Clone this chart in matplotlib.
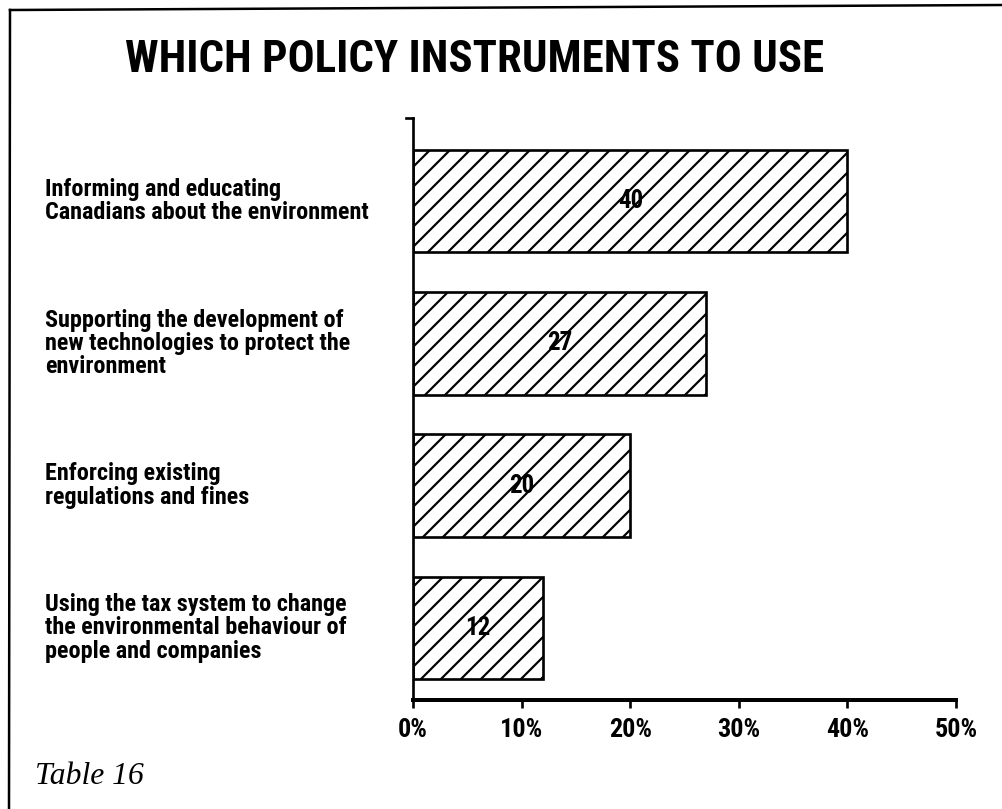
import matplotlib
matplotlib.use("Agg")
import matplotlib.pyplot as plt
from matplotlib.lines import Line2D
from matplotlib import font_manager

categories = [
    "Informing and educating\nCanadians about the environment",
    "Supporting the development of\nnew technologies to protect the\nenvironment",
    "Enforcing existing\nregulations and fines",
    "Using the tax system to change\nthe environmental behaviour of\npeople and companies",
]
values = [40, 27, 20, 12]
xticks = [0, 10, 20, 30, 40, 50]
xtick_labels = ["0%", "10%", "20%", "30%", "40%", "50%"]
title = "WHICH POLICY INSTRUMENTS TO USE"
footnote = "Table 16"

# pick the narrowest heavy sans family available
names = {f.name for f in font_manager.fontManager.ttflist}
cond = None
for cand in ["Liberation Sans Narrow", "Arial Narrow", "Roboto Condensed",
             "DejaVu Sans Condensed", "Open Sans Condensed", "Noto Sans Condensed"]:
    if cand in names:
        cond = cand
        break
if cond is None:
    cond = "Roboto" if "Roboto" in names else "Liberation Sans"
COND = [cond, "DejaVu Sans"]

plt.rcParams["hatch.linewidth"] = 1.3

DPI = 120
W, H = 1002, 809
fig = plt.figure(figsize=(W / DPI, H / DPI), dpi=DPI)
fig.patch.set_facecolor("white")

ax = fig.add_axes([413 / W, 1 - 700 / H, (956 - 413) / W, (700 - 118) / H])
ypos = list(range(len(values)))
ax.barh(ypos, values, height=0.72, color="white", edgecolor="black",
        hatch="//", linewidth=1.6, zorder=2)
vlabels = []
for y, v in zip(ypos, values):
    vlabels.append(ax.text(v / 2, y, str(v), ha="center", va="center", fontsize=15,
                           fontweight="heavy", family=COND, zorder=3))

ax.set_xlim(0, 50)
ax.set_ylim(3.507, -0.585)
ax.set_xticks(xticks)
ax.set_xticklabels(xtick_labels, fontsize=15, fontweight="heavy", family=COND)
ax.set_yticks([])
for s in ["top", "right"]:
    ax.spines[s].set_visible(False)
ax.spines["left"].set_linewidth(1.6)
ax.spines["bottom"].set_linewidth(2.4)
ax.tick_params(axis="x", length=5, width=1.6, pad=6, direction="out")
ax.add_line(Line2D([-0.012, 0], [1, 1], transform=ax.transAxes, color="black",
                   lw=1.6, clip_on=False))

cat_texts = []
for y, c in zip(ypos, categories):
    yfig = ax.transData.transform((0, y))[1]
    cat_texts.append(fig.text(45 / W, yfig / H, c, ha="left", va="center",
                              fontsize=14, fontweight="heavy", family=COND,
                              linespacing=1.0))

ttl = fig.text(475 / W, 1 - 60 / H, title, ha="center", va="center",
               fontsize=29, fontweight="heavy", family=COND)
fig.text(35 / W, 1 - 776 / H, footnote, ha="left", va="center",
         fontsize=19, style="italic", family=["Liberation Serif", "DejaVu Serif"])

# fit widths to the reference layout
fig.canvas.draw()
r = fig.canvas.get_renderer()
wt = ttl.get_window_extent(r).width
ttl.set_fontsize(ttl.get_fontsize() * 700 / wt)
wc = cat_texts[0].get_window_extent(r).width
fs = cat_texts[0].get_fontsize() * 323 / wc
for t in cat_texts:
    t.set_fontsize(fs)
# measure line pitch and set it to ~23.5 px
fig.canvas.draw()
h2 = cat_texts[0].get_window_extent(r).height
h3 = cat_texts[1].get_window_extent(r).height
pitch = h3 - h2
ls = 23.5 / pitch
for t in cat_texts:
    t.set_linespacing(ls)
tl = ax.get_xticklabels()
wk = tl[1].get_window_extent(r).width
tfs = 15 * 43 / wk
for t in tl:
    t.set_fontsize(tfs)
for t in vlabels:
    t.set_fontsize(tfs * 0.95)

# page border (top and left)
fig.add_artist(Line2D([10 / W, 1.0], [1 - 10 / H, 1 - 5 / H],
                      transform=fig.transFigure, color="black", lw=1.5))
fig.add_artist(Line2D([10 / W, 9 / W], [1 - 10 / H, 0.0],
                      transform=fig.transFigure, color="black", lw=1.5))

fig.savefig("out.png", dpi=DPI, facecolor="white")
